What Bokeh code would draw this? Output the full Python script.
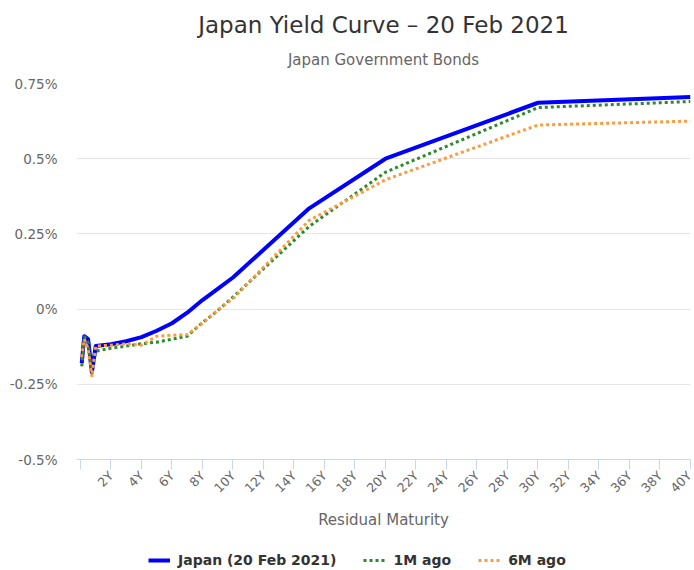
from bokeh.plotting import figure
from bokeh.layouts import column
from bokeh.models import (Range1d, FixedTicker, CustomJSTickFormatter, Legend,
                          LegendItem, Title)
from bokeh.embed import file_html
from bokeh.resources import INLINE

# ---- data (percent yields by residual maturity, years) ----
maturities = [1/12, 0.25, 0.5, 0.75, 1, 2, 3, 4, 5, 6, 7, 8, 9, 10, 15, 20, 30, 40]
japan_now = [-0.18, -0.09, -0.10, -0.21, -0.123, -0.117, -0.107, -0.093, -0.072,
             -0.047, -0.012, 0.03, 0.067, 0.105, 0.335, 0.50, 0.686, 0.705]
ago_1m = [-0.19, -0.09, -0.11, -0.21, -0.14, -0.13, -0.123, -0.115, -0.11,
          -0.10, -0.09, -0.045, -0.005, 0.04, 0.275, 0.455, 0.67, 0.69]
ago_6m = [-0.16, -0.10, -0.13, -0.225, -0.123, -0.12, -0.116, -0.12, -0.09,
          -0.087, -0.085, -0.047, -0.003, 0.035, 0.295, 0.43, 0.612, 0.625]
series_names = ["Japan (20 Feb 2021)", "1M ago", "6M ago"]
x_ticks = list(range(0, 41, 2))
y_ticks = [-0.5, -0.25, 0, 0.25, 0.5, 0.75]

FONT = "DejaVu Sans"
STYLES = [dict(line_color="#0000ff", line_width=4, line_join="round"),
          dict(line_color="#2b8a2b", line_width=3, line_dash="3 3"),
          dict(line_color="#ff9a3c", line_width=3, line_dash="3 3")]

p = figure(frame_width=614, frame_height=376, output_backend="svg",
           toolbar_location=None, title=None,
           x_range=Range1d(-0.26, 40), y_range=Range1d(-0.5, 0.75),
           min_border_left=76, min_border_right=4, min_border_top=0,
           min_border_bottom=88)
p.outline_line_color = None
p.background_fill_color = "white"
p.border_fill_color = "white"

for ys, st in zip([japan_now, ago_1m, ago_6m], STYLES):
    p.line(maturities, ys, **st)

# x axis
xa = p.xaxis[0]
xa.ticker = FixedTicker(ticks=x_ticks)
xa.formatter = CustomJSTickFormatter(code="return tick == 0 ? '' : tick + 'Y';")
xa.minor_tick_line_color = None
xa.axis_line_color = "#ccd6eb"
xa.major_tick_line_color = "#ccd6eb"
xa.major_tick_out = 10
xa.major_tick_in = 0
xa.major_label_orientation = 0.785398
xa.major_label_text_font = FONT
xa.major_label_text_font_size = "12.5px"
xa.major_label_text_color = "#666666"
xa.major_label_standoff = 4
xa.axis_label = "Residual Maturity"
xa.axis_label_text_font = FONT
xa.axis_label_text_font_style = "normal"
xa.axis_label_text_font_size = "15px"
xa.axis_label_text_color = "#666666"
xa.axis_label_standoff = 7

# y axis
ya = p.yaxis[0]
ya.ticker = FixedTicker(ticks=y_ticks)
ya.formatter = CustomJSTickFormatter(code="return tick + '%';")
ya.axis_line_color = None
ya.major_tick_line_color = None
ya.minor_tick_line_color = None
ya.major_label_text_font = FONT
ya.major_label_text_font_size = "13.5px"
ya.major_label_text_color = "#666666"
ya.major_label_standoff = 13

p.xgrid.grid_line_color = None
p.ygrid.ticker = FixedTicker(ticks=y_ticks)
p.ygrid.grid_line_color = "#e6e6e6"

# titles: subtitle (closest to frame), main title, then a top spacer
p.add_layout(Title(text="Japan Government Bonds", align="center",
                   text_font=FONT, text_font_size="15px",
                   text_font_style="normal", text_color="#666666",
                   vertical_align="top", standoff=25), "above")
p.add_layout(Title(text="Japan Yield Curve \u2013 20 Feb 2021", align="center",
                   text_font=FONT, text_font_size="23px",
                   text_font_style="normal", text_color="#333333",
                   vertical_align="middle", standoff=0), "above")
p.add_layout(Title(text=" ", align="center", text_font=FONT,
                   text_font_size="1px", standoff=7), "above")

# legend strip below the chart: the same series drawn out of view, used only
# as legend sources
lg = figure(width=694, height=23, output_backend="svg", toolbar_location=None,
            title=None, x_axis_type=None, y_axis_type=None,
            x_range=Range1d(100, 101), y_range=Range1d(100, 101),
            min_border_left=0, min_border_right=0, min_border_top=0,
            min_border_bottom=0)
lg.outline_line_color = None
lg.xgrid.grid_line_color = None
lg.ygrid.grid_line_color = None
items = []
for name, ys, st in zip(series_names, [japan_now, ago_1m, ago_6m], STYLES):
    r = lg.line(maturities, ys, **st)
    items.append(LegendItem(label=name, renderers=[r]))
legend = Legend(items=items, orientation="horizontal", location=(72, 0),
                label_text_font=FONT, label_text_font_style="bold",
                label_text_font_size="14px", label_text_color="#333333",
                glyph_width=22, glyph_height=20, label_standoff=8, spacing=27,
                border_line_color=None, background_fill_alpha=0,
                padding=0, margin=0)
lg.add_layout(legend)

layout = column(p, lg, spacing=0)
open("out.html", "w").write(file_html(layout, INLINE))
